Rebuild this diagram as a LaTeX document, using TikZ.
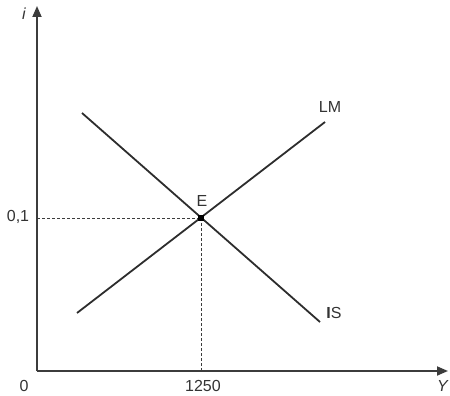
\documentclass[tikz,border=0pt]{standalone}
\usepackage{fontspec}
\setmainfont{Liberation Sans}
\usepackage{xcolor}
\definecolor{axisgray}{RGB}{60,60,60}
\definecolor{curvegray}{RGB}{45,45,45}
\usetikzlibrary{arrows.meta, positioning}

\begin{document}
\begin{tikzpicture}[x=1pt, y=-1pt,
  axis/.style={-{Triangle[length=11pt, width=9pt]}, line width=1.8pt, draw=axisgray},
  curve/.style={line width=1.8pt, draw=curvegray},
  guide/.style={densely dashed, line width=0.6pt, draw=axisgray},
  lbl/.style={font=\fontsize{16}{18}\selectfont, text=black!80, inner sep=1pt},
  eqpt/.style={rectangle, fill=black, minimum size=6pt, inner sep=0pt}
]
\useasboundingbox (0,0) rectangle (450,396);

% Axes
\coordinate (orig) at (37,371);
\coordinate (ytop) at (37,6);
\coordinate (xend) at (448,371);
\draw[axis] (orig) -- (ytop);
\draw[axis] (orig) -- (xend);

% Curves
\coordinate (lm0) at (77,313);
\coordinate (lm1) at (325,122);
\coordinate (is0) at (82,113);
\coordinate (is1) at (320,322);
\draw[curve] (lm0) -- (lm1);
\draw[curve] (is0) -- (is1);

% Equilibrium
\node[eqpt] (E) at (201,218) {};
\coordinate (yref) at (37,218);
\coordinate (xref) at (201,371);
\draw[guide] (yref) -- (E);
\draw[guide] (xref) -- (E);

% Labels
\node[lbl] (Elbl) at (202,201) {E};
\node[lbl] (LMlbl) at (330,107) {LM};
\node[lbl] (ISlbl) at (334,313) {\textbf{I}S};
\node[lbl] (ilbl) at (24,14) {\textit{i}};
\node[lbl] (Ylbl) at (443,386) {\textit{Y}};
\node[lbl] (zero) at (24,386) {0};
\node[lbl] (xval) at (203,386) {1250};
\node[lbl] (yval) at (18,217) {0,1};
\end{tikzpicture}
\end{document}
